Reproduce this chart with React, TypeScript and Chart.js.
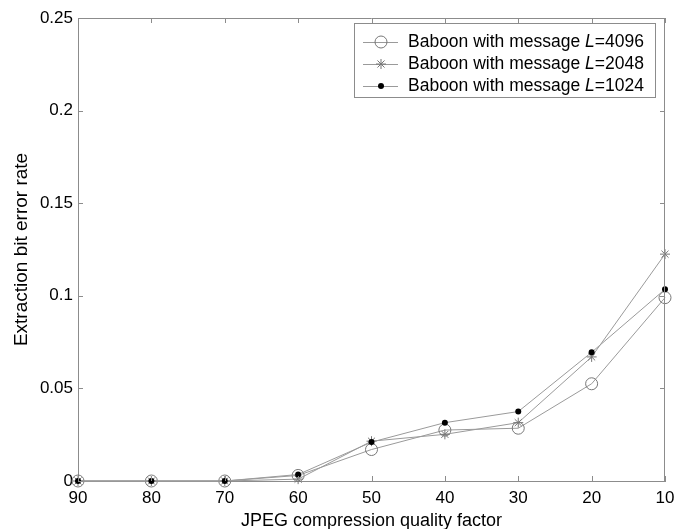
import React, { useEffect, useRef } from "react";
import { Chart, registerables } from "chart.js";

Chart.register(...registerables);

const quality = [90, 80, 70, 60, 50, 40, 30, 20, 10];
const ber4096 = [0, 0, 0, 0.003, 0.017, 0.0275, 0.0285, 0.0525, 0.099];
const ber2048 = [0, 0, 0, 0.001, 0.0215, 0.0252, 0.0315, 0.067, 0.1225];
const ber1024 = [0, 0, 0, 0.0035, 0.021, 0.0315, 0.0375, 0.0695, 0.1035];
const seriesLabels = ["4096", "2048", "1024"];
const xTickValues = [90, 80, 70, 60, 50, 40, 30, 20, 10];
const yTickValues = [0, 0.05, 0.1, 0.15, 0.2, 0.25];

const FONT = "'Liberation Sans', Arial, Helvetica, sans-serif";
const AXIS_GRAY = "#8c8c8c";
const LINE_GRAY = "#9a9a9a";

function drawMarker(ctx: CanvasRenderingContext2D, kind: string, x: number, y: number) {
  ctx.save();
  if (kind === "circle") {
    ctx.strokeStyle = "#777";
    ctx.lineWidth = 1;
    ctx.beginPath();
    ctx.arc(x, y, 6, 0, Math.PI * 2);
    ctx.stroke();
  } else if (kind === "star") {
    ctx.strokeStyle = "#777";
    ctx.lineWidth = 1;
    const r = 5;
    ctx.beginPath();
    for (let i = 0; i < 4; i++) {
      const a = (i * Math.PI) / 4;
      ctx.moveTo(x + r * Math.cos(a), y + r * Math.sin(a));
      ctx.lineTo(x - r * Math.cos(a), y - r * Math.sin(a));
    }
    ctx.stroke();
  } else {
    ctx.fillStyle = "#000";
    ctx.beginPath();
    ctx.arc(x, y, 3, 0, Math.PI * 2);
    ctx.fill();
  }
  ctx.restore();
}

const frameAndLegend = {
  id: "frameAndLegend",
  afterDatasetsDraw(chart: any) {
    const ctx: CanvasRenderingContext2D = chart.ctx;
    const { left, right, top, bottom } = chart.chartArea;
    const xs = chart.scales.x;
    const ys = chart.scales.y;
    ctx.save();
    ctx.strokeStyle = AXIS_GRAY;
    ctx.lineWidth = 1;
    // top and right frame
    ctx.beginPath();
    ctx.moveTo(left, top + 0.5);
    ctx.lineTo(right, top + 0.5);
    ctx.moveTo(right - 0.5, top);
    ctx.lineTo(right - 0.5, bottom);
    ctx.stroke();
    // inward ticks
    const tl = 5;
    ctx.beginPath();
    xTickValues.forEach((v) => {
      const px = Math.round(xs.getPixelForValue(v)) + 0.5;
      ctx.moveTo(px, bottom);
      ctx.lineTo(px, bottom - tl);
      ctx.moveTo(px, top);
      ctx.lineTo(px, top + tl);
    });
    yTickValues.forEach((v) => {
      const py = Math.round(ys.getPixelForValue(v)) + 0.5;
      ctx.moveTo(left, py);
      ctx.lineTo(left + tl, py);
      ctx.moveTo(right, py);
      ctx.lineTo(right - tl, py);
    });
    ctx.stroke();

    // legend
    const bx = 354, by = 23, bw = 301, bh = 74;
    ctx.fillStyle = "#fff";
    ctx.fillRect(bx, by, bw, bh);
    ctx.strokeStyle = AXIS_GRAY;
    ctx.strokeRect(bx + 0.5, by + 0.5, bw, bh);
    const kinds = ["circle", "star", "dot"];
    seriesLabels.forEach((lab, i) => {
      const ry = by + 19 + i * 22;
      ctx.strokeStyle = LINE_GRAY;
      ctx.beginPath();
      ctx.moveTo(bx + 9, ry + 0.5);
      ctx.lineTo(bx + 44, ry + 0.5);
      ctx.stroke();
      drawMarker(ctx, kinds[i], bx + 27, ry);
      ctx.fillStyle = "#000";
      ctx.textBaseline = "middle";
      ctx.textAlign = "left";
      let tx = bx + 54;
      ctx.font = `17.5px ${FONT}`;
      const p1 = "Baboon with message ";
      ctx.fillText(p1, tx, ry);
      tx += ctx.measureText(p1).width;
      ctx.font = `italic 17.5px ${FONT}`;
      ctx.fillText("L", tx, ry);
      tx += ctx.measureText("L").width;
      ctx.font = `17.5px ${FONT}`;
      ctx.fillText("=" + lab, tx, ry);
    });
    ctx.restore();
  },
};

export default function App() {
  const ref = useRef<HTMLCanvasElement | null>(null);
  useEffect(() => {
    if (!ref.current) return;
    const mk = (arr: number[]) => quality.map((q, i) => ({ x: q, y: arr[i] }));
    const chart = new Chart(ref.current, {
      type: "line",
      data: {
        datasets: [
          {
            label: "Baboon with message L=4096",
            data: mk(ber4096),
            borderColor: LINE_GRAY,
            borderWidth: 1,
            pointStyle: "circle",
            pointRadius: 6,
            pointBorderColor: "#777",
            pointBackgroundColor: "rgba(0,0,0,0)",
            pointBorderWidth: 1,
            clip: false,
            order: 2,
          },
          {
            label: "Baboon with message L=2048",
            data: mk(ber2048),
            borderColor: LINE_GRAY,
            borderWidth: 1,
            pointStyle: "star",
            pointRadius: 5,
            pointBorderColor: "#777",
            pointBackgroundColor: "rgba(0,0,0,0)",
            pointBorderWidth: 1,
            clip: false,
            order: 1,
          },
          {
            label: "Baboon with message L=1024",
            data: mk(ber1024),
            borderColor: LINE_GRAY,
            borderWidth: 1,
            pointStyle: "circle",
            pointRadius: 3,
            pointBorderColor: "#000",
            pointBackgroundColor: "#000",
            pointBorderWidth: 0,
            clip: false,
            order: 0,
          },
        ] as any,
      },
      options: {
        responsive: false,
        animation: false,
        devicePixelRatio: 1,
        layout: { padding: { top: 18, right: 21, left: 0, bottom: 0 } },
        plugins: { legend: { display: false }, tooltip: { enabled: false } },
        elements: { line: { tension: 0 } },
        scales: {
          x: {
            type: "linear",
            reverse: true,
            min: 10,
            max: 90,
            afterFit: (s: any) => {
              s.height = 48;
            },
            afterBuildTicks: (s: any) => {
              s.ticks = xTickValues.map((v) => ({ value: v }));
            },
            ticks: {
              color: "#000",
              font: { family: FONT, size: 17 },
              padding: 7,
              maxRotation: 0,
              autoSkip: false,
            },
            grid: { display: true, drawOnChartArea: false, drawTicks: false },
            border: { display: true, color: AXIS_GRAY, width: 1 },
            title: {
              display: true,
              text: "JPEG compression quality factor",
              color: "#000",
              font: { family: FONT, size: 18, lineHeight: 0.9 },
              padding: 0,
            },
          },
          y: {
            type: "linear",
            min: 0,
            max: 0.25,
            afterFit: (s: any) => {
              s.width = 78;
            },
            afterBuildTicks: (s: any) => {
              s.ticks = yTickValues.map((v) => ({ value: v }));
            },
            ticks: {
              color: "#000",
              font: { family: FONT, size: 17 },
              padding: 5,
              callback: (v: any) => String(+Number(v).toFixed(2)),
            },
            grid: { display: true, drawOnChartArea: false, drawTicks: false },
            border: { display: true, color: AXIS_GRAY, width: 1 },
            title: {
              display: true,
              text: "Extraction bit error rate",
              color: "#000",
              font: { family: FONT, size: 19 },
              padding: 10,
            },
          },
        },
      },
      plugins: [frameAndLegend],
    });
    return () => chart.destroy();
  }, []);
  return (
    <div style={{ position: "absolute", left: 0, top: 0, width: 686, height: 529, background: "#fff" }}>
      <canvas ref={ref} width={686} height={529} style={{ width: 686, height: 529, display: "block" }} />
    </div>
  );
}
